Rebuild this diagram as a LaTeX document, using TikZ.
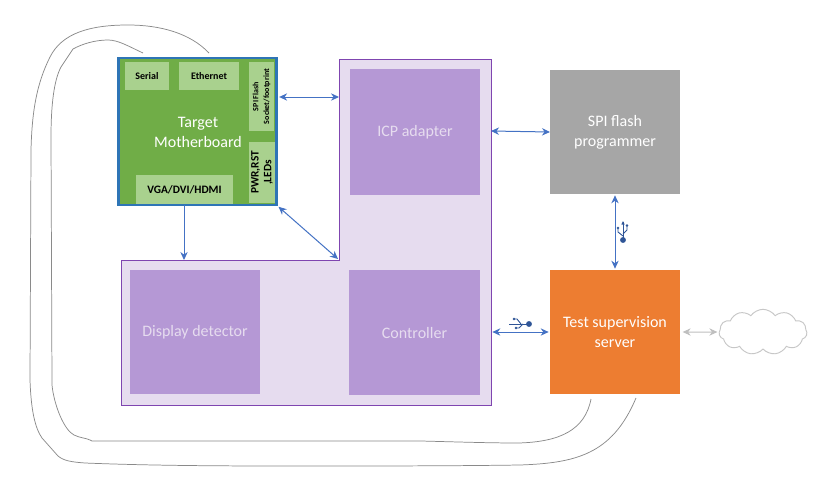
\documentclass[tikz,border=0pt]{standalone}
\usepackage{fontspec}
\setmainfont{Carlito}
\usetikzlibrary{arrows.meta,shapes.symbols}
\definecolor{bluearr}{HTML}{4472C4}
\definecolor{lpurple}{HTML}{E6DCEF}
\definecolor{mpurple}{HTML}{B598D5}
\definecolor{dpurple}{HTML}{7F45B0}
\definecolor{greenmb}{HTML}{70AD47}
\definecolor{greenlt}{HTML}{A9D18E}
\definecolor{bluemb}{HTML}{2E75B6}
\definecolor{wire}{HTML}{8A8A8A}
\definecolor{usbblue}{HTML}{2F5597}
\definecolor{orangebox}{HTML}{ED7D31}
\tikzset{
  x=0.75pt,y=-0.75pt,
  sized/.style 2 args={minimum width={#1*0.75pt},minimum height={#2*0.75pt},inner sep=0pt,outer sep=0pt},
  blockbox/.style={align=center,font=\fontsize{12}{15}\selectfont},
  chipbox/.style={fill=greenlt,font=\fontsize{7.5}{9}\bfseries\selectfont,text=black},
  dblarrow/.style={draw=bluearr,line width=0.75pt,{Stealth[length=6pt,width=5.5pt]}-{Stealth[length=6pt,width=5.5pt]}},
  onearrow/.style={draw=bluearr,line width=0.75pt,-{Stealth[length=6pt,width=5.5pt]}},
  greyarrow/.style={draw=black!25,line width=0.75pt,{Stealth[length=6pt,width=5.5pt]}-{Stealth[length=6pt,width=5.5pt]}},
  wireline/.style={draw=wire,line width=0.55pt},
  usbline/.style={draw=usbblue,line width=0.7pt},
}
\begin{document}
\begin{tikzpicture}
\useasboundingbox[fill=white] (0,0) rectangle (836,482);
% L-shaped carrier
\draw[fill=lpurple,draw=dpurple,line width=0.7pt] (339,59) -- (491,59) -- (491,405) -- (121,405) -- (121,260) -- (339,260) -- cycle;
\coordinate (carrierA) at (339,97);
\coordinate (carrierB) at (491,131);
\coordinate (carrierC) at (491,332);
\coordinate (carrierD) at (184,260);
\coordinate (carrierE) at (338,259);
% blocks
\node[blockbox,sized={130}{126},fill=mpurple,text=lpurple] (icp) at (415,132) {ICP adapter};
\node[blockbox,sized={131}{125},fill=mpurple,text=lpurple] (ctrl) at (414.5,332.5) {Controller};
\node[blockbox,sized={130}{124},fill=mpurple,text=lpurple] (disp) at (195,332) {Display detector};
\node[blockbox,sized={130}{124},fill=black!35,text=white] (spi) at (615,132) {SPI flash\\programmer};
\node[blockbox,sized={130}{124},fill=orangebox,text=white] (test) at (615,332) {Test supervision\\server};
% motherboard
\node[sized={158}{147},fill=greenmb,draw=bluemb,line width=2pt] (mb) at (197.5,131.5) {};
\node[text=white,align=center,font=\fontsize{12}{15}\selectfont,inner sep=0pt] (mbtext) at (198,132) {Target\\Motherboard};
\node[chipbox,sized={44}{28}] (serial) at (147,76) {Serial};
\node[chipbox,sized={60}{28}] (eth) at (209,76) {Ethernet};
\node[chipbox,sized={97}{29},font=\fontsize{8.5}{10}\bfseries\selectfont] (vga) at (184.5,189.5) {VGA/DVI/HDMI};
\node[chipbox,sized={25}{69}] (sock) at (261.5,96.5) {};
\node[rotate=90,align=center,inner sep=0pt,text=black,font=\fontsize{6}{8}\bfseries\selectfont] (socktext) at (sock) {SPI Flash\\Socket/footprint};
\node[chipbox,sized={26}{61}] (pwr) at (262,172.5) {};
\node[rotate=90,align=center,inner sep=0pt,text=black,font=\fontsize{8.5}{9.5}\bfseries\selectfont] (pwrtext) at (pwr) {PWR,RST\\,LEDs};
% cloud
\node[cloud,cloud puffs=11,cloud puff arc=110,draw=black!22,line width=0.7pt,fill=white,minimum width=66pt,minimum height=34pt,inner sep=0pt,aspect=2] (net) at (763,332) {};
% connectors
\draw[dblarrow,shorten <=2pt] (mb.east |- carrierA) -- (carrierA);
\draw[dblarrow] (carrierB) -- (spi.west);
\draw[dblarrow,shorten <=1pt,shorten >=1pt] (spi.south) -- (test.north);
\draw[dblarrow,shorten <=1pt,shorten >=1pt] (carrierC) -- (test.west);
\draw[greyarrow,shorten <=2pt,shorten >=1pt] (test.east) -- (net.west);
\draw[onearrow] (mb.south -| carrierD) -- (carrierD);
\draw[dblarrow,shorten <=2pt] (mb.south east) -- (carrierE);
% wires
\coordinate (wireEth) at (209,53);
\coordinate (wireSer) at (143,53);
\coordinate (wireOut) at (636,398);
\coordinate (wireIn) at (591,399);
\draw[wireline] (wireEth) .. controls (190,33) and (160,25) .. (128,25)
  .. controls (90,25) and (62,33) .. (50,57)
  .. controls (37,83) and (32,110) .. (31,150)
  -- (30,380)
  .. controls (31,410) and (35,428) .. (42,438)
  -- (58,456)
  .. controls (64,461) and (72,462) .. (85,463)
  .. controls (160,466) and (240,466) .. (300,466)
  .. controls (380,466) and (450,466) .. (520,465)
  .. controls (575,463) and (612,455) .. (wireOut);
\draw[wireline] (wireSer) .. controls (128,46) and (118,40) .. (108,40)
  .. controls (95,40) and (82,44) .. (73,49)
  -- (61,67)
  .. controls (54,80) and (51,105) .. (51,137)
  -- (52,385)
  .. controls (54,405) and (64,430) .. (74,435)
  .. controls (80,438) and (86,438) .. (90,440)
  -- (92,441) -- (421,441)
  .. controls (460,442) and (490,443) .. (518,443)
  .. controls (560,442) and (585,430) .. (wireIn);
% USB symbols
\coordinate (usbV) at (623,222);
\draw[usbline] (usbV) -- (623,240);
\fill[usbblue] (623,240) circle (2.2pt);
\draw[usbline] (618,229) -- (618,232) -- (623,236);
\draw[usbline] (627,226) -- (627,230) -- (623,234);
\fill[usbblue] (618,228) circle (1.1pt) (627,225.5) circle (1.1pt);
\fill[usbblue] (621.4,224.5) -- (623,221) -- (624.6,224.5) -- cycle;
\coordinate (usbH) at (509,324);
\draw[usbline] (usbH) -- (529,324);
\fill[usbblue] (529,324) circle (2.2pt);
\draw[usbline] (514,319) -- (517,319) -- (521,324);
\draw[usbline] (516,328) -- (519,328) -- (523,324);
\fill[usbblue] (514,319) circle (1.1pt) (516,328) circle (1.1pt);
\end{tikzpicture}
\end{document}
